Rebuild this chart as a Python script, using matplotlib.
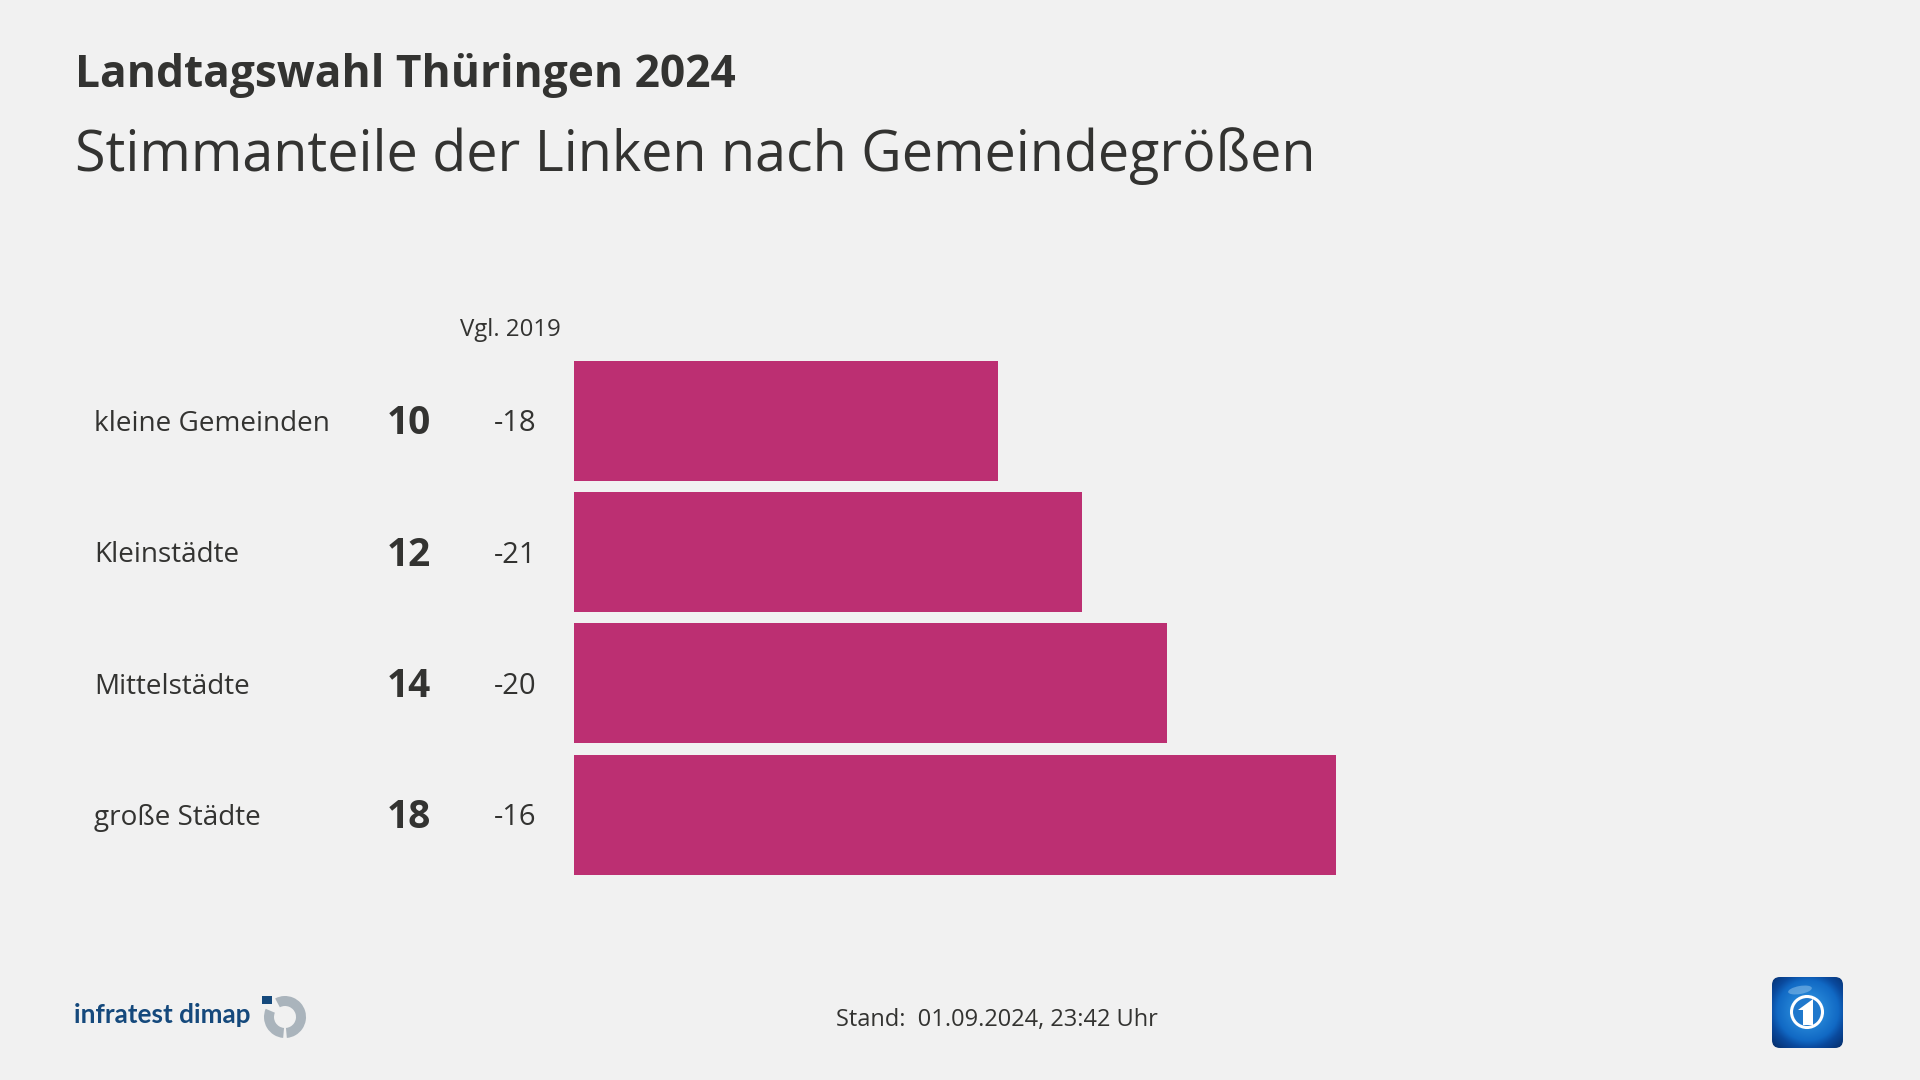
import numpy as np
import matplotlib
matplotlib.use("Agg")
import matplotlib.pyplot as plt
from matplotlib.colors import LinearSegmentedColormap
from matplotlib.patches import Rectangle, Wedge, Circle, Ellipse, Polygon, FancyBboxPatch
from matplotlib.transforms import blended_transform_factory

categories = ["kleine Gemeinden", "Kleinstädte", "Mittelstädte", "große Städte"]
values = [10, 12, 14, 18]
changes = [-18, -21, -20, -16]

bg = "#f1f1f1"
ink = "#333331"
bar_color = "#bc2f72"

plt.rcParams["font.family"] = ["Open Sans", "DejaVu Sans"]

fig = plt.figure(figsize=(19.2, 10.8), dpi=100, facecolor=bg)

# overlay in pixels for the texts and logos
over = fig.add_axes([0, 0, 1, 1])
over.set_xlim(0, 1920)
over.set_ylim(1080, 0)
over.axis("off")

# bars: 42.35 px per percentage point, rows 131.3 px apart
ax = fig.add_axes([574 / 1920, 1 - 880.2 / 1080, 847 / 1920, 525.2 / 1080])
ax.set_xlim(0, 20)
ax.set_ylim(3.5, -0.5)
ax.axis("off")
ax.barh(range(len(values)), values, height=0.914, color=bar_color)

row = blended_transform_factory(over.transData, ax.transData)
for i, cat in enumerate(categories):
    ax.text(94, i + 0.025, cat, transform=row, fontsize=20.1, color=ink, ha="left", va="center")
    ax.text(409, i + 0.025, str(values[i]), transform=row, fontsize=28, fontweight="bold",
            color=ink, ha="center", va="center")
    ax.text(515, i + 0.025, str(changes[i]), transform=row, fontsize=21, color=ink,
            ha="center", va="center")

over.text(510, 330, "Vgl. 2019", fontsize=17.3, color=ink, ha="center", va="center")
over.text(75, 75, "Landtagswahl Thüringen 2024", fontsize=31.9, fontweight="bold",
          color=ink, ha="left", va="center")
over.text(75, 156, "Stimmanteile der Linken nach Gemeindegrößen", fontsize=40.1,
          color=ink, ha="left", va="center")
over.text(836, 1020, "Stand:  01.09.2024, 23:42 Uhr", fontsize=17, color=ink,
          ha="left", va="center")

# infratest dimap logo
over.text(74, 1023, "infratest dimap", fontsize=18.8, fontweight="bold",
          color="#15497c", ha="left", va="baseline", family=["Lato", "Open Sans"])
over.add_patch(Rectangle((262, 996), 10, 8, color="#15497c", lw=0))
over.add_patch(Wedge((285, 1017), 21, -118, 85, width=10, color="#aab4bc", lw=0))
over.add_patch(Wedge((285, 1017), 21, 95, 203, width=10, color="#aab4bc", lw=0))

# ARD tagesschau icon
box = FancyBboxPatch((1776, 981), 63, 63, boxstyle="round,pad=4,rounding_size=8",
                     fc="none", ec="none")
over.add_patch(box)
icon_cmap = LinearSegmentedColormap.from_list(
    "icon", [(0, "#2f93e0"), (0.55, "#1169c4"), (0.72, "#0a4a9e"), (1, "#06306f")])
yy, xx = np.mgrid[0:1:80j, 0:1:80j]
shade = np.hypot(xx - 0.5, yy - 0.47)
img = over.imshow(shade, extent=(1772, 1844, 1048, 977), cmap=icon_cmap, vmin=0.1, vmax=0.7,
                  aspect="auto", zorder=2)
img.set_clip_path(box)
over.set_xlim(0, 1920)
over.set_ylim(1080, 0)
over.add_patch(Ellipse((1800, 990), 24, 8, angle=-10, fc="#8cc0ea", ec="none", alpha=0.55, zorder=3))
over.add_patch(Circle((1807, 1012), 15.5, fc="#1f78cc", ec="white", lw=2.2, zorder=3))
over.add_patch(Polygon([(1798, 1010), (1813, 999), (1813, 1025), (1803, 1025), (1803, 1010)],
                       closed=True, fc="white", ec="none", zorder=4))

fig.savefig("out.png", dpi=100, facecolor=bg)
